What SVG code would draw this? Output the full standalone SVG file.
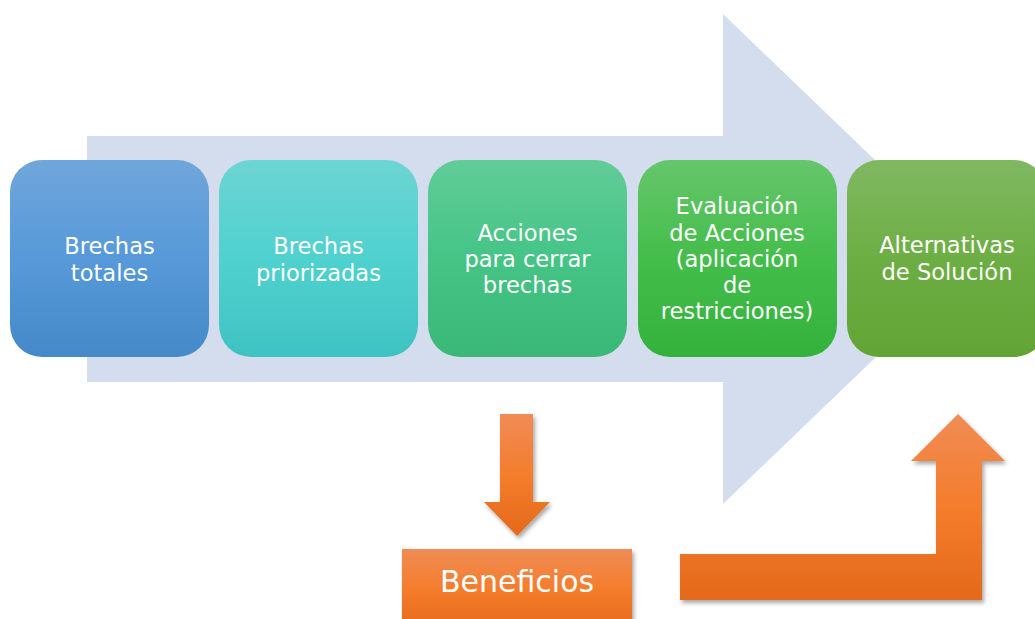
<svg xmlns="http://www.w3.org/2000/svg" width="1035" height="619" viewBox="0 0 1035 619">
<defs>
<linearGradient id="g1" x1="0" y1="0" x2="0" y2="1"><stop offset="0" stop-color="#70a6da"/><stop offset="0.5" stop-color="#5799d9"/><stop offset="1" stop-color="#4589c9"/></linearGradient>
<linearGradient id="g2" x1="0" y1="0" x2="0" y2="1"><stop offset="0" stop-color="#6dd5d3"/><stop offset="0.5" stop-color="#4fd1cf"/><stop offset="1" stop-color="#3fc3c2"/></linearGradient>
<linearGradient id="g3" x1="0" y1="0" x2="0" y2="1"><stop offset="0" stop-color="#62cc98"/><stop offset="0.5" stop-color="#45c486"/><stop offset="1" stop-color="#3bb877"/></linearGradient>
<linearGradient id="g4" x1="0" y1="0" x2="0" y2="1"><stop offset="0" stop-color="#66c66c"/><stop offset="0.5" stop-color="#44bd4b"/><stop offset="1" stop-color="#33b23b"/></linearGradient>
<linearGradient id="g5" x1="0" y1="0" x2="0" y2="1"><stop offset="0" stop-color="#80b862"/><stop offset="0.5" stop-color="#6dae44"/><stop offset="1" stop-color="#62a434"/></linearGradient>
<linearGradient id="go" x1="0" y1="0" x2="0" y2="1"><stop offset="0" stop-color="#f08c56"/><stop offset="0.5" stop-color="#f47d2c"/><stop offset="1" stop-color="#e4691b"/></linearGradient>
<linearGradient id="goa" gradientUnits="userSpaceOnUse" x1="0" y1="414" x2="0" y2="600"><stop offset="0" stop-color="#f08c56"/><stop offset="0.5" stop-color="#f47d2c"/><stop offset="1" stop-color="#e4691b"/></linearGradient>
<linearGradient id="god" gradientUnits="userSpaceOnUse" x1="0" y1="414" x2="0" y2="536"><stop offset="0" stop-color="#f08c56"/><stop offset="0.5" stop-color="#f47d2c"/><stop offset="1" stop-color="#e4691b"/></linearGradient>
<filter id="sh" x="-20%" y="-20%" width="140%" height="140%"><feDropShadow dx="2" dy="3" stdDeviation="2" flood-color="#000" flood-opacity="0.35"/></filter>
</defs>
<style>
.box{stroke:none}
.t{font-family:"DejaVu Sans","Liberation Sans",sans-serif;font-size:22.6px;fill:#ffffff;text-anchor:middle}
.tb{font-family:"DejaVu Sans","Liberation Sans",sans-serif;font-size:30px;fill:#ffffff;text-anchor:middle}
</style>
<rect width="1035" height="619" fill="#ffffff"/>
<g id="flow-arrow">
<polygon points="87,136 723,136 723,14 978,259 723,504 723,382 87,382" fill="#d3ddee"/>
</g>
<g id="connectors">
<polygon points="500,414 533,414 533,502 550,502 517,536 484,502 500,502" fill="url(#god)" filter="url(#sh)"/>
<polygon points="680,554 936,554 936,461 911,461 958,414 1005,461 982,461 982,600 680,600" fill="url(#goa)" filter="url(#sh)"/>
</g>
<g id="node-brechas-totales">
<rect class="box" x="10" y="160" width="199" height="197" rx="32" fill="url(#g1)"/>
<text class="t" x="109.5" y="254">Brechas</text>
<text class="t" x="109.5" y="281">totales</text>
</g>
<g id="node-brechas-priorizadas">
<rect class="box" x="219" y="160" width="199" height="197" rx="32" fill="url(#g2)"/>
<text class="t" x="318.5" y="254">Brechas</text>
<text class="t" x="318.5" y="281">priorizadas</text>
</g>
<g id="node-acciones">
<rect class="box" x="428" y="160" width="199" height="197" rx="32" fill="url(#g3)"/>
<text class="t" x="527.5" y="241">Acciones</text>
<text class="t" x="527.5" y="267">para cerrar</text>
<text class="t" x="527.5" y="293">brechas</text>
</g>
<g id="node-evaluacion">
<rect class="box" x="638" y="160" width="199" height="197" rx="32" fill="url(#g4)"/>
<text class="t" x="737" y="214">Evaluación</text>
<text class="t" x="737" y="241">de Acciones</text>
<text class="t" x="737" y="267">(aplicación</text>
<text class="t" x="737" y="293">de</text>
<text class="t" x="737" y="319">restricciones)</text>
</g>
<g id="node-alternativas">
<rect class="box" x="847" y="160" width="199" height="197" rx="32" fill="url(#g5)"/>
<text class="t" x="947" y="253">Alternativas</text>
<text class="t" x="947" y="280">de Solución</text>
</g>
<g id="node-beneficios">
<rect x="402" y="549" width="230" height="80" fill="url(#go)" filter="url(#sh)"/>
<text class="tb" x="517" y="592">Beneficios</text>
</g>
</svg>
